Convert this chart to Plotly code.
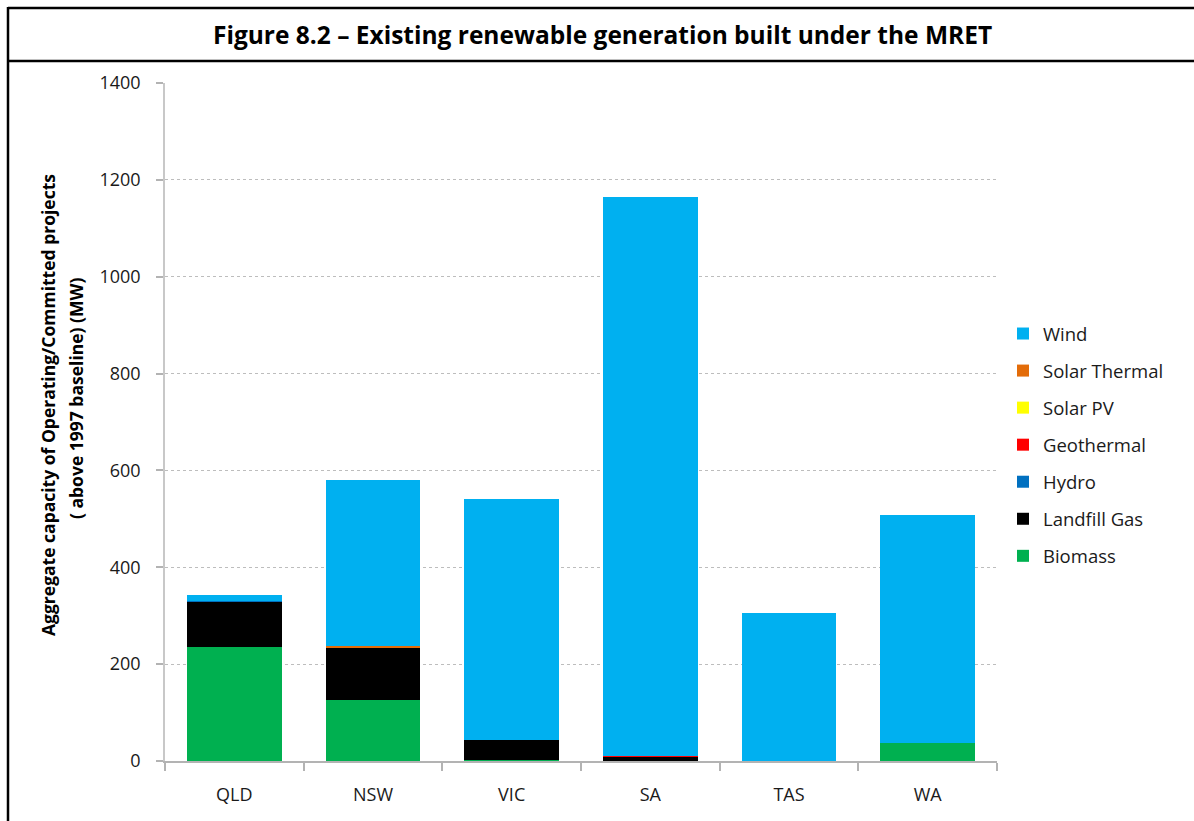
import plotly.graph_objects as go

# Capacity (MW) of operating/committed projects above the 1997 baseline, by state
states = ["QLD", "NSW", "VIC", "SA", "TAS", "WA"]
biomass = [235, 125, 3, 0, 0, 37]
landfill_gas = [94, 108, 40, 9, 0, 0]
hydro = [2, 0, 0, 0, 0, 0]
geothermal = [0, 0, 0, 2, 0, 0]
solar_pv = [0, 0, 0, 0, 0, 0]
solar_thermal = [0, 5, 0, 0, 0, 0]
wind = [12, 342, 498, 1153, 305, 470]

y_ticks = [0, 200, 400, 600, 800, 1000, 1200, 1400]

# stacking order, bottom to top
series = [
    ("Biomass", biomass, "#00B050"),
    ("Landfill Gas", landfill_gas, "#000000"),
    ("Hydro", hydro, "#0070C0"),
    ("Geothermal", geothermal, "#FF0000"),
    ("Solar PV", solar_pv, "#FFFF00"),
    ("Solar Thermal", solar_thermal, "#E36C09"),
    ("Wind", wind, "#00B0F0"),
]

FONT = "Open Sans"
W, H = 1194, 821
L, R, T, B = 165, 197, 83, 60
pw, ph = W - L - R, H - T - B


def px_x(x):
    return (x - L) / pw


def px_y(y):
    return (H - B - y) / ph


fig = go.Figure()
n = len(series)
for i, (name, vals, color) in enumerate(series):
    fig.add_trace(go.Bar(
        name=name, x=states, y=vals,
        marker=dict(color=color, line=dict(width=0)),
        legendgroup=name,
        legendrank=n - i,  # top of the stack listed first
    ))

frame = dict(color="#000000", width=2.5)
shapes = [
    dict(type="line", xref="paper", yref="paper",
         x0=px_x(8), x1=px_x(W + 5), y0=px_y(8), y1=px_y(8), line=frame),
    dict(type="line", xref="paper", yref="paper",
         x0=px_x(8), x1=px_x(W + 5), y0=px_y(61), y1=px_y(61), line=frame),
    dict(type="line", xref="paper", yref="paper",
         x0=px_x(8), x1=px_x(8), y0=px_y(7), y1=px_y(H + 5), line=frame),
]

ytitle_font = dict(family=FONT, size=17.5, color="#000000")
annotations = [
    dict(text="<b>Figure 8.2 – Existing renewable generation built under the MRET</b>",
         xref="paper", yref="paper", x=px_x(602), y=px_y(35),
         xanchor="center", yanchor="middle", showarrow=False,
         font=dict(family=FONT, size=24.5, color="#000000")),
    dict(text="<b>Aggregate capacity of Operating/Committed projects</b>",
         xref="paper", yref="paper", x=px_x(48), y=px_y(405),
         xanchor="center", yanchor="middle", showarrow=False, textangle=-90,
         font=ytitle_font),
    dict(text="<b>( above 1997 baseline) (MW)</b>",
         xref="paper", yref="paper", x=px_x(76), y=px_y(399),
         xanchor="center", yanchor="middle", showarrow=False, textangle=-90,
         font=ytitle_font),
]

fig.update_layout(
    barmode="stack",
    bargap=0.315,
    width=W, height=H,
    margin=dict(l=L, r=R, t=T, b=B, autoexpand=False),
    paper_bgcolor="#FFFFFF",
    plot_bgcolor="#FFFFFF",
    font=dict(family=FONT, size=18, color="#1A1A1A"),
    showlegend=True,
    legend=dict(
        x=px_x(1003), y=px_y(315), xanchor="left", yanchor="top",
        traceorder="grouped", tracegroupgap=10,
        font=dict(family=FONT, size=18.5, color="#1A1A1A"),
        bgcolor="rgba(0,0,0,0)",
    ),
    shapes=shapes,
    annotations=annotations,
)

fig.update_xaxes(
    type="category",
    showline=True, linecolor="#B3B3B3", linewidth=1.5,
    ticks="outside", tickson="boundaries", ticklen=8, tickcolor="#B3B3B3", tickwidth=1.5,
    ticklabelstandoff=17,
    showgrid=False, zeroline=False,
    tickfont=dict(family=FONT, size=18, color="#1A1A1A"),
)
fig.update_yaxes(
    range=[0, 1400], tickvals=y_ticks,
    showline=True, linecolor="#C8C8C8", linewidth=1.5,
    ticks="outside", ticklen=7, tickcolor="#B3B3B3", tickwidth=1.5,
    ticklabelstandoff=12,
    showgrid=True, gridcolor="#BDBDBD", griddash="dot", gridwidth=1,
    zeroline=False,
    tickfont=dict(family=FONT, size=18, color="#1A1A1A"),
)

fig.write_html("out.html")
